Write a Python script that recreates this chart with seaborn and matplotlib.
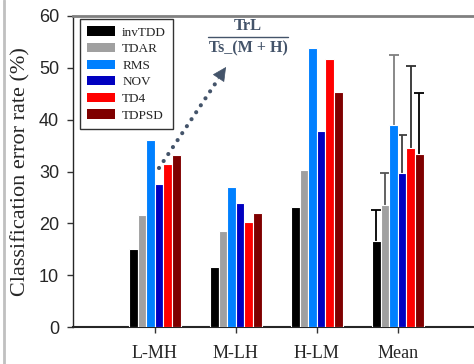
import matplotlib
matplotlib.use("Agg")
import matplotlib.pyplot as plt
from matplotlib.lines import Line2D
from matplotlib.container import BarContainer
import seaborn as sns
import pandas as pd

# Classification error rates (%) per train/test condition and feature set
conditions = ["L-MH", "M-LH", "H-LM", "Mean"]
methods = ["invTDD", "TDAR", "RMS", "NOV", "TD4", "TDPSD"]
invTDD = [15.0, 11.6, 23.1, 16.6]
TDAR = [21.6, 18.6, 30.3, 23.5]
RMS = [36.1, 27.1, 53.8, 39.0]
NOV = [27.5, 24.0, 37.9, 29.8]
TD4 = [31.4, 20.3, 51.7, 34.5]
TDPSD = [33.2, 22.0, 45.3, 33.4]
# standard deviation of the mean values (upper whisker only)
mean_sd = [5.9, 6.15, 13.5, 7.2, 15.9, 11.7]

colors = ["#000000", "#A0A0A0", "#0080FF", "#0000C0", "#FF0000", "#7F0000"]
err_colors = ["#000000", "#555555", "#7F7F7F", "#404040", "#303030", "#000000"]

series = [invTDD, TDAR, RMS, NOV, TD4, TDPSD]
rows = []
for m, vals in zip(methods, series):
    for c, v in zip(conditions, vals):
        rows.append({"condition": c, "method": m, "error": v})
df = pd.DataFrame(rows)

sns.set_style("ticks")
plt.rcParams["font.family"] = ["Liberation Serif", "DejaVu Serif"]

fig = plt.figure(figsize=(4.74, 3.64), dpi=100)
ax = fig.add_axes([73 / 474, 1 - 327 / 364, 1 - 73 / 474, 311 / 364])

sns.barplot(data=df, x="condition", y="error", hue="method",
            order=conditions, hue_order=methods, palette=colors,
            saturation=1, width=0.64, edgecolor="white", linewidth=0.8,
            ax=ax, zorder=3)

# upper error whiskers on the Mean group
bar_sets = [c for c in ax.containers if isinstance(c, BarContainer)]
for j, cont in enumerate(bar_sets):
    bar = cont[3]
    xc = bar.get_x() + bar.get_width() / 2
    top = bar.get_height() + mean_sd[j]
    ax.vlines(xc, bar.get_height(), top, color=err_colors[j], lw=1.3, zorder=2)
    ax.plot([xc], [top], marker="_", ms=7, mew=1.3, color=err_colors[j],
            zorder=2)

ax.set_xlim(-1.01, 3.94)
ax.set_ylim(0, 60)
ax.set_yticks([0, 10, 20, 30, 40, 50, 60])
ax.set_xlabel("")
ax.set_ylabel("Classification error rate (%)", fontsize=16, labelpad=6)

for lab in ax.get_yticklabels():
    lab.set_fontfamily("Liberation Sans")
    lab.set_fontsize(13)
for lab in ax.get_xticklabels():
    lab.set_fontsize(13)
ax.tick_params(axis="y", length=4, width=1, pad=6, color="#333333")
ax.tick_params(axis="x", length=4, width=1, pad=9, color="#333333")

ax.spines["right"].set_visible(False)
ax.spines["top"].set_color("#808080")
ax.spines["top"].set_linewidth(2)
ax.spines["bottom"].set_linewidth(1.5)
ax.spines["left"].set_linewidth(1)

leg = ax.legend(loc="upper left", bbox_to_anchor=(7 / 401, 0.99),
                borderaxespad=0, fontsize=9.5, frameon=True, fancybox=False,
                edgecolor="black", handlelength=2.1, handleheight=0.7,
                handletextpad=0.55, labelspacing=0.33, borderpad=0.55,
                title=None)
leg.get_frame().set_linewidth(1)
for h in leg.legend_handles:
    h.set_edgecolor("none")

# ratio annotation with dotted arrow
slate = "#44546A"
fig.text(248 / 474, 1 - 26 / 364, "TrL", ha="center", va="center",
         fontsize=12, fontweight="bold", color=slate)
fig.text(248 / 474, 1 - 48 / 364, "Ts_(M + H)", ha="center", va="center",
         fontsize=11.5, fontweight="bold", color=slate)
fig.add_artist(Line2D([208 / 474, 288 / 474], [1 - 37 / 364, 1 - 37 / 364],
                      color=slate, lw=1))
fig.add_artist(Line2D([159 / 474, 219 / 474], [1 - 168 / 364, 1 - 78 / 364],
                      color=slate, lw=3, linestyle=(0, (0.01, 2.0)),
                      dash_capstyle="round"))
ax.annotate("", xy=(226, 364 - 67), xycoords="figure pixels",
            xytext=(218, 364 - 79), textcoords="figure pixels",
            arrowprops=dict(arrowstyle="-|>,head_length=0.9,head_width=0.45",
                            color=slate, lw=0.5, shrinkA=0, shrinkB=0))

# light frame line on the left edge
fig.add_artist(Line2D([4 / 474, 4 / 474], [0, 1], color="#C0C0C0", lw=2))

fig.savefig("out.png", dpi=100)
